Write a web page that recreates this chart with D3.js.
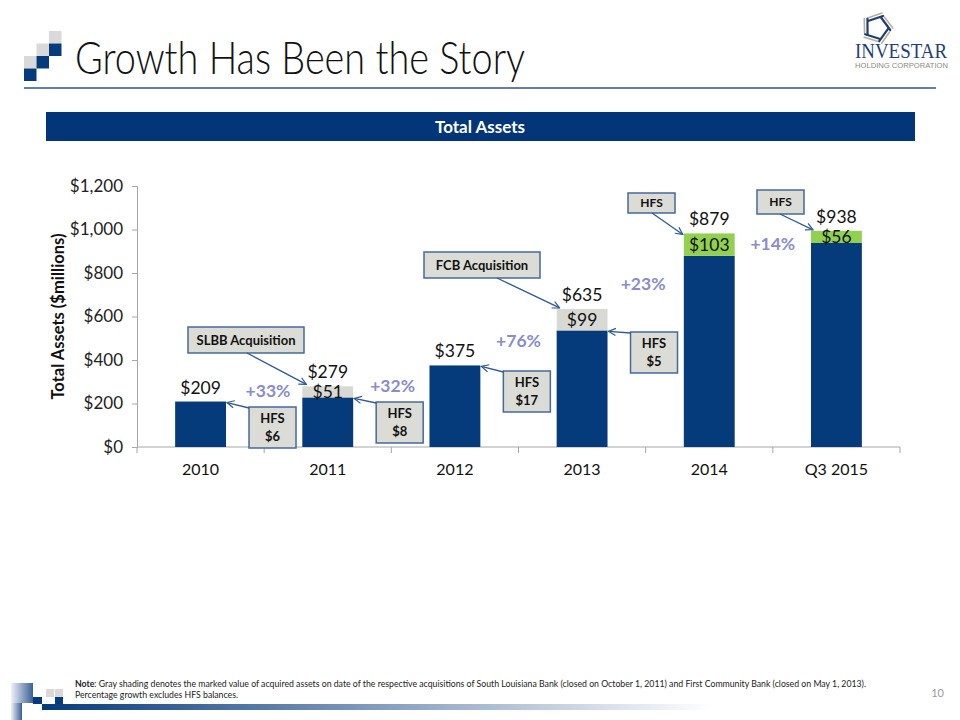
<!DOCTYPE html>
<html>
<head>
<meta charset="utf-8">
<script src="https://cdn.jsdelivr.net/npm/d3@7"></script>
<style>
  html, body { margin: 0; padding: 0; background: #fff; }
  svg { display: block; }
</style>
</head>
<body>
<svg id="chart" width="960" height="720" font-family="Lato, 'Open Sans', sans-serif"></svg>
<script>
// ---------- data ----------
const categories = ["2010", "2011", "2012", "2013", "2014", "Q3 2015"];
const organicAssets = [209, 228, 375, 536, 879, 938];   // navy
const acquiredAssets = [0, 51, 0, 99, 0, 0];            // gray (acquisitions)
const hfsAssets = [0, 0, 0, 0, 103, 56];                // green (HFS)
const totalLabels = ["$209", "$279", "$375", "$635", "$879", "$938"];
const segmentLabels = ["", "$51", "", "$99", "$103", "$56"];
const growthLabels = ["+33%", "+32%", "+76%", "+23%", "+14%"];
const hfsBetween = ["$6", "$8", "$17", "$5"];
const yTicks = [0, 200, 400, 600, 800, 1000, 1200];

// ---------- colours ----------
const NAVY = "#053a7b";
const GRAY = "#d9d9d3";
const GREEN = "#92d050";
const BOX_FILL = "#dcdcd6";
const BOX_STROKE = "#46699b";
const PCT = "#8a8ccb";

const svg = d3.select("#chart");
const defs = svg.append("defs");

// ---------- header decoration ----------
const sq = 12.5;
const squares = [
  [49, 31, "#d9d9d9"], [36.5, 43.5, "#d9d9d9"], [49, 43.5, NAVY],
  [24, 56, "#d9d9d9"], [36.5, 56, NAVY], [24, 68.5, NAVY]
];
svg.selectAll("rect.sq").data(squares).join("rect")
  .attr("x", d => d[0]).attr("y", d => d[1]).attr("width", sq).attr("height", sq)
  .attr("fill", d => d[2]);
svg.append("line").attr("x1", 24).attr("x2", 936).attr("y1", 88).attr("y2", 88)
  .attr("stroke", "#2b5494").attr("stroke-width", 1.5);
svg.append("text").attr("x", 75).attr("y", 74)
  .attr("font-size", 45).attr("font-weight", 300).attr("fill", "#111")
  .attr("textLength", 450).attr("lengthAdjust", "spacingAndGlyphs")
  .text("Growth Has Been the Story");

// logo
const logo = svg.append("g").attr("transform", "translate(877,28)");
for (let i = 0; i < 5; i++) {
  const g = logo.append("g").attr("transform", `rotate(${i * 72})`);
  g.append("line").attr("x1", -9).attr("y1", -7).attr("x2", 6).attr("y2", -12)
    .attr("stroke", "#1f3f73").attr("stroke-width", 2.2).attr("stroke-linecap", "round");
  g.append("line").attr("x1", -8).attr("y1", -10.5).attr("x2", 5).attr("y2", -15)
    .attr("stroke", "#b9ae9a").attr("stroke-width", 1.6).attr("stroke-linecap", "round");
}
svg.append("text").attr("x", 855).attr("y", 58)
  .style("font-family", "'Liberation Serif', 'DejaVu Serif', serif").attr("font-size", 21)
  .attr("fill", "#1f3f73").attr("textLength", 92).attr("lengthAdjust", "spacingAndGlyphs")
  .text("INVESTAR");
svg.append("text").attr("x", 855).attr("y", 68)
  .style("font-family", "'Liberation Sans', sans-serif").attr("font-size", 7)
  .attr("fill", "#8a8a7e").attr("textLength", 93).attr("lengthAdjust", "spacingAndGlyphs")
  .text("HOLDING CORPORATION");

// banner
svg.append("rect").attr("x", 46).attr("y", 112).attr("width", 869).attr("height", 29)
  .attr("fill", "#023679");
svg.append("text").attr("x", 480).attr("y", 133).attr("text-anchor", "middle")
  .attr("font-size", 17).attr("font-weight", "bold").attr("fill", "#fff")
  .text("Total Assets");

// ---------- chart ----------
const x0 = 137, x1 = 900, yBase = 447, yTop = 186;
const x = d3.scaleBand().domain(categories).range([x0, x1]).paddingInner(0.6).paddingOuter(0.3);
const y = d3.scaleLinear().domain([0, 1200]).range([yBase, yTop]);

const rows = categories.map((c, i) => ({
  cat: c, organic: organicAssets[i], acquired: acquiredAssets[i], hfs: hfsAssets[i]
}));
const stack = d3.stack().keys(["organic", "acquired", "hfs"])(rows);
const colors = { organic: NAVY, acquired: GRAY, hfs: GREEN };

// axes
const yAxis = d3.axisLeft(y).tickValues(yTicks).tickSize(5).tickPadding(9)
  .tickFormat(d => "$" + d3.format(",")(d));
const gy = svg.append("g").attr("transform", `translate(${x0},0)`).call(yAxis);
gy.attr("font-family", null);
gy.select(".domain").attr("stroke", "#a6a6a6");
gy.selectAll(".tick line").attr("stroke", "#a6a6a6");
gy.selectAll(".tick text").attr("font-size", 17).attr("fill", "#222");

const gx = svg.append("g").attr("transform", `translate(0,${yBase})`);
gx.append("line").attr("x1", x0).attr("x2", x1).attr("stroke", "#a6a6a6");
const bounds = d3.range(categories.length + 1).map(i => x0 + (x1 - x0) * i / categories.length);
gx.selectAll("line.tk").data(bounds).join("line").attr("class", "tk")
  .attr("x1", d => d).attr("x2", d => d).attr("y1", 0).attr("y2", 6).attr("stroke", "#a6a6a6");
gx.selectAll("text.cat").data(categories).join("text").attr("class", "cat")
  .attr("x", d => x(d) + x.bandwidth() / 2).attr("y", 28)
  .attr("text-anchor", "middle").attr("font-size", 16).attr("fill", "#111")
  .text(d => d);

svg.append("text")
  .attr("transform", `translate(64,${(yBase + yTop) / 2}) rotate(-90)`)
  .attr("text-anchor", "middle").attr("font-size", 16.5).attr("font-weight", "bold")
  .attr("fill", "#111").text("Total Assets ($millions)");

// bars
svg.append("g").selectAll("g").data(stack).join("g")
  .attr("fill", d => colors[d.key])
  .selectAll("rect").data(d => d.filter(p => p[1] > p[0])).join("rect")
  .attr("x", d => x(d.data.cat)).attr("width", x.bandwidth())
  .attr("y", d => y(d[1])).attr("height", d => y(d[0]) - y(d[1]));

// total labels
const stackTop = i => organicAssets[i] + acquiredAssets[i] + hfsAssets[i];
svg.selectAll("text.tot").data(categories).join("text").attr("class", "tot")
  .attr("x", d => x(d) + x.bandwidth() / 2)
  .attr("y", (d, i) => y(stackTop(i)) - 8)
  .attr("text-anchor", "middle").attr("font-size", 17.5).attr("fill", "#111")
  .text((d, i) => totalLabels[i]);

// segment labels
svg.selectAll("text.seg").data(categories).join("text").attr("class", "seg")
  .attr("x", d => x(d) + x.bandwidth() / 2)
  .attr("y", (d, i) => (y(organicAssets[i]) + y(stackTop(i))) / 2 + 6.5)
  .attr("text-anchor", "middle").attr("font-size", 17.5).attr("fill", "#111")
  .text((d, i) => segmentLabels[i]);

// growth labels between bars (position in band steps from first bar centre, $ level)
const pctPos = [[0.53, 257], [1.51, 280], [2.5, 487], [3.48, 749], [4.5, 933]];
const step = x.step();
svg.selectAll("text.pct").data(growthLabels).join("text").attr("class", "pct")
  .attr("x", (d, i) => x(categories[0]) + x.bandwidth() / 2 + step * pctPos[i][0])
  .attr("y", (d, i) => y(pctPos[i][1]) + 6)
  .attr("text-anchor", "middle").attr("font-size", 17.5).attr("font-weight", "bold")
  .attr("fill", PCT).text(d => d);

// ---------- annotation boxes ----------
defs.append("marker").attr("id", "arr").attr("viewBox", "0 0 10 10")
  .attr("refX", 9).attr("refY", 5).attr("markerWidth", 9).attr("markerHeight", 9)
  .attr("orient", "auto").attr("markerUnits", "userSpaceOnUse")
  .append("path").attr("d", "M1,1 L9,5 L1,9").attr("fill", "none")
  .attr("stroke", "#2d5a94").attr("stroke-width", 1.3);

function box(bx, by, bw, bh, lines, fs) {
  svg.append("rect").attr("x", bx).attr("y", by).attr("width", bw).attr("height", bh)
    .attr("fill", BOX_FILL).attr("stroke", BOX_STROKE).attr("stroke-width", 1.5);
  const lh = fs * 1.35;
  lines.forEach((t, k) => {
    svg.append("text").attr("x", bx + bw / 2)
      .attr("y", by + bh / 2 + (k - (lines.length - 1) / 2) * lh + fs * 0.36)
      .attr("text-anchor", "middle").attr("font-size", fs).attr("font-weight", "bold")
      .attr("fill", "#111").text(t);
  });
}
function arrow(xa, ya, xb, yb) {
  svg.append("line").attr("x1", xa).attr("y1", ya).attr("x2", xb).attr("y2", yb)
    .attr("stroke", "#2d5a94").attr("stroke-width", 1.3).attr("marker-end", "url(#arr)");
}
const right = i => x(categories[i]) + x.bandwidth();
const left = i => x(categories[i]);

// HFS boxes between consecutive bars (pointing to bar top-right)
const hfsBoxY = [407, 402, 371, 332];
hfsBetween.forEach((v, i) => {
  const bx = right(i) + 23;
  box(bx, hfsBoxY[i], 47, 41, ["HFS", v], 13);
  arrow(bx, hfsBoxY[i] + 1, right(i) + 1, y(organicAssets[i]) + 1);
});

// acquisition callouts
box(188, 327, 116, 26, ["SLBB Acquisition"], 13);
arrow(247, 353, left(1) + 4, y(stackTop(1)) - 2);
box(424, 252, 116, 26, ["FCB Acquisition"], 13);
arrow(497, 278, left(3) + 3, y(stackTop(3)) - 1);

// HFS callouts for 2014 and Q3 2015
box(628, 193, 47, 20, ["HFS"], 12);
arrow(652, 213, left(4) - 1, y(stackTop(4)) + 1);
box(757, 190, 47, 24, ["HFS"], 12);
arrow(780, 214, left(5) + 2, y(stackTop(5)) - 1);

// ---------- footer ----------
const fgrad = defs.append("linearGradient").attr("id", "fg");
fgrad.append("stop").attr("offset", "0%").attr("stop-color", NAVY);
fgrad.append("stop").attr("offset", "100%").attr("stop-color", "#ffffff");
const vgrad = defs.append("linearGradient").attr("id", "vg");
vgrad.append("stop").attr("offset", "0%").attr("stop-color", "#eef1f7");
vgrad.append("stop").attr("offset", "100%").attr("stop-color", "#3a5f98");
svg.append("rect").attr("x", 11).attr("y", 683).attr("width", 22).attr("height", 20).attr("fill", "url(#vg)");
svg.append("rect").attr("x", 11).attr("y", 703).attr("width", 11).attr("height", 17).attr("fill", "url(#vg)");
svg.append("rect").attr("x", 33).attr("y", 697).attr("width", 9).attr("height", 7).attr("fill", NAVY);
svg.append("rect").attr("x", 46).attr("y", 689).attr("width", 8).attr("height", 8).attr("fill", "#d9d9d9");
svg.append("rect").attr("x", 55).attr("y", 689).attr("width", 8).attr("height", 8).attr("fill", "#d9d9d9");
svg.append("rect").attr("x", 55).attr("y", 697).attr("width", 8).attr("height", 7).attr("fill", NAVY);
svg.append("rect").attr("x", 42).attr("y", 704).attr("width", 670).attr("height", 6).attr("fill", "url(#fg)");

const note = svg.append("text").attr("x", 75).attr("y", 687).attr("font-size", 8.6).attr("fill", "#222");
note.append("tspan").attr("font-weight", "bold").text("Note");
note.append("tspan").text(": Gray shading denotes the marked value of acquired assets on date of the respective acquisitions of South Louisiana Bank (closed on October 1, 2011) and First Community Bank (closed on May 1, 2013).");
note.attr("textLength", 791).attr("lengthAdjust", "spacingAndGlyphs");
svg.append("text").attr("x", 75).attr("y", 698).attr("font-size", 8.6).attr("fill", "#222")
  .attr("textLength", 163).attr("lengthAdjust", "spacingAndGlyphs")
  .text("Percentage growth excludes HFS balances.");
svg.append("text").attr("x", 944).attr("y", 697).attr("text-anchor", "end")
  .attr("font-size", 11).attr("fill", "#999").text("10");
</script>
</body>
</html>
